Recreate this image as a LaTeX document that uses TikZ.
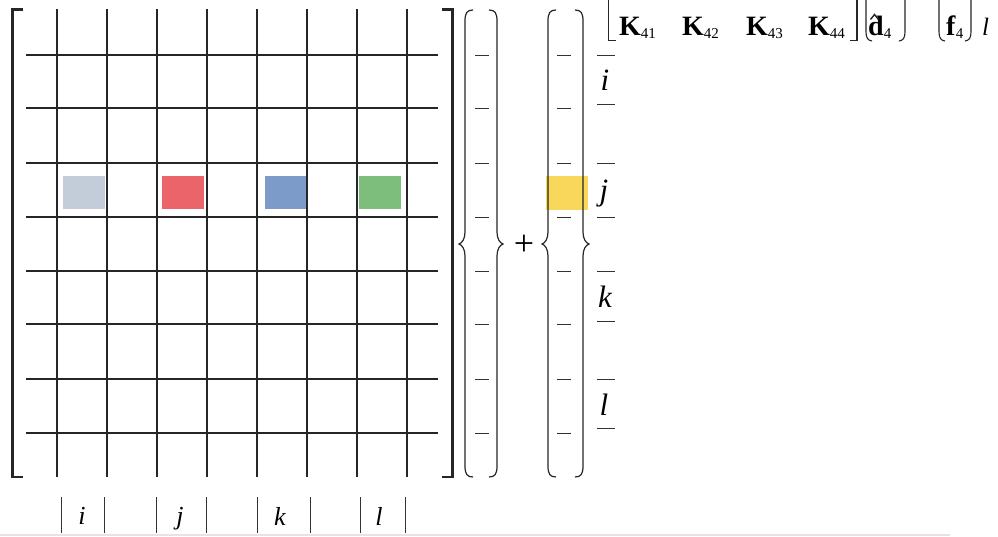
\documentclass[tikz,border=0pt]{standalone}
\usepackage{fontspec}
\setmainfont{Liberation Serif}
\definecolor{cgray}{HTML}{C3CDDA}
\definecolor{cred}{HTML}{EB6469}
\definecolor{cblue}{HTML}{7D9BC8}
\definecolor{cgreen}{HTML}{7DBE7D}
\definecolor{cyellow}{HTML}{F8D75A}
\definecolor{faint}{HTML}{ECE0E3}
\begin{document}
\begin{tikzpicture}[x=1pt,y=-1pt,
  gridline/.style={line width=1.2pt, black!85},
  brk/.style={line width=2.8pt, black!85, line join=miter, line cap=butt},
  smallbrk/.style={line width=1.1pt, black!85},
  bracestroke/.style={line width=1.2pt, black!85},
  dsh/.style={line width=0.9pt, black!80},
  bar/.style={line width=0.9pt, black!80},
  rlbl/.style={font=\fontsize{31}{31}\itshape\selectfont, inner sep=0pt, anchor=base},
  blbl/.style={font=\fontsize{26}{26}\itshape\selectfont, inner sep=0pt, anchor=base},
  kent/.style={font=\fontsize{28}{28}\selectfont, inner sep=0pt, anchor=base west},
  cell/.style={draw=none, minimum width=42pt, minimum height=33pt, inner sep=0pt}]
\useasboundingbox[fill=white] (0,0) rectangle (998,536);

% coloured cells
\node[cell, fill=cgray]  (cg) at (84,192.5) {};
\node[cell, fill=cred]   (cr) at (182.5,192.5) {};
\node[cell, fill=cblue]  (cb) at (285.5,192.5) {};
\node[cell, fill=cgreen] (cn) at (379.5,192.5) {};
\node[cell, fill=cyellow, minimum width=42pt, minimum height=34pt] (cy) at (567,193) {};

% grid
\foreach \x in {57,107,157,207,257,307,357,407}
  \draw[gridline] (\x,9) -- (\x,477);
\foreach \y in {55,108,163,217,271,324,379,433}
  \draw[gridline] (26,\y) -- (438,\y);

% main brackets
\draw[brk] (23,9.5) -- (12.5,9.5) -- (12.5,477) -- (23,477);
\draw[brk] (442,9.5) -- (452.5,9.5) -- (452.5,477) -- (442,477);

% left braces
\foreach \bx in {465,548}
  \draw[bracestroke] (\bx+8,10) .. controls (\bx+2,10) and (\bx,13) .. (\bx,21)
    -- (\bx,232) .. controls (\bx,239) and (\bx-3,243) .. (\bx-6,244)
    .. controls (\bx-3,245) and (\bx,249) .. (\bx,256)
    -- (\bx,466) .. controls (\bx,474) and (\bx+2,477) .. (\bx+8,477);
% right braces
\foreach \bx in {497,583}
  \draw[bracestroke] (\bx-8,10) .. controls (\bx-2,10) and (\bx,13) .. (\bx,21)
    -- (\bx,232) .. controls (\bx,239) and (\bx+3,243) .. (\bx+6,244)
    .. controls (\bx+3,245) and (\bx,249) .. (\bx,256)
    -- (\bx,466) .. controls (\bx,474) and (\bx-2,477) .. (\bx-8,477);

% vector dashes
\foreach \y in {55,108,163,217,271,324,379,433} {
  \draw[dsh] (475,\y) -- (489,\y);
  \draw[dsh] (557,\y) -- (571,\y);
}

% plus
\node[font=\fontsize{36}{36}\selectfont, inner sep=0pt] (plus) at (524,245) {+};

% right labels
\foreach \y in {55,104,163,217,271,321,379,428}
  \draw[dsh] (597,\y) -- (615,\y);
\node[rlbl] (ri) at (605,90) {i};
\node[rlbl] (rj) at (604,200) {j};
\node[rlbl] (rk) at (605,307) {k};
\node[rlbl] (rl) at (604,415) {l};

% bottom labels
\foreach \x in {61,104,156,206,257,310,360,405}
  \draw[bar] (\x,497) -- (\x,533);
\node[blbl] (bi) at (82,524) {i};
\node[blbl] (bj) at (180,524) {j};
\node[blbl] (bk) at (280,525) {k};
\node[blbl] (bl) at (379,525) {l};

% top-right matrix fragment
\draw[smallbrk] (608.5,0) -- (608.5,40.5) -- (616,40.5);
\draw[smallbrk] (857,0) -- (857,40.5) -- (849.5,40.5);
\node[kent] (k41) at (619,35) {\textbf{K}\raisebox{-3pt}{\fontsize{15}{15}\selectfont 41}};
\node[kent] (k42) at (682,35) {\textbf{K}\raisebox{-3pt}{\fontsize{15}{15}\selectfont 42}};
\node[kent] (k43) at (746,35) {\textbf{K}\raisebox{-3pt}{\fontsize{15}{15}\selectfont 43}};
\node[kent] (k44) at (808,35) {\textbf{K}\raisebox{-3pt}{\fontsize{15}{15}\selectfont 44}};
\draw[smallbrk] (866,0) -- (866,32) .. controls (866,38) and (868,40.5) .. (872,41);
\draw[smallbrk] (905,0) -- (905,32) .. controls (905,38) and (903,40.5) .. (899,41);
\node[kent] (d4) at (868,35) {\textbf{d}\raisebox{-3pt}{\fontsize{15}{15}\selectfont 4}};
\draw[line width=1.4pt, black!85, line join=miter] (870.5,19.5) -- (874.5,14.5) -- (878.5,19.5);
\draw[smallbrk] (939,0) -- (939,32) .. controls (939,38) and (941,40.5) .. (945,41);
\draw[smallbrk] (971,0) -- (971,32) .. controls (971,38) and (969,40.5) .. (965,41);
\node[kent] (f4) at (946,35) {\textbf{f}\raisebox{-3pt}{\fontsize{15}{15}\selectfont 4}};
\node[kent, font=\fontsize{25}{25}\itshape\selectfont] (tl) at (982,35) {l};

% faint bottom rule
\draw[faint, line width=2pt] (0,535) -- (950,535);
\end{tikzpicture}
\end{document}
